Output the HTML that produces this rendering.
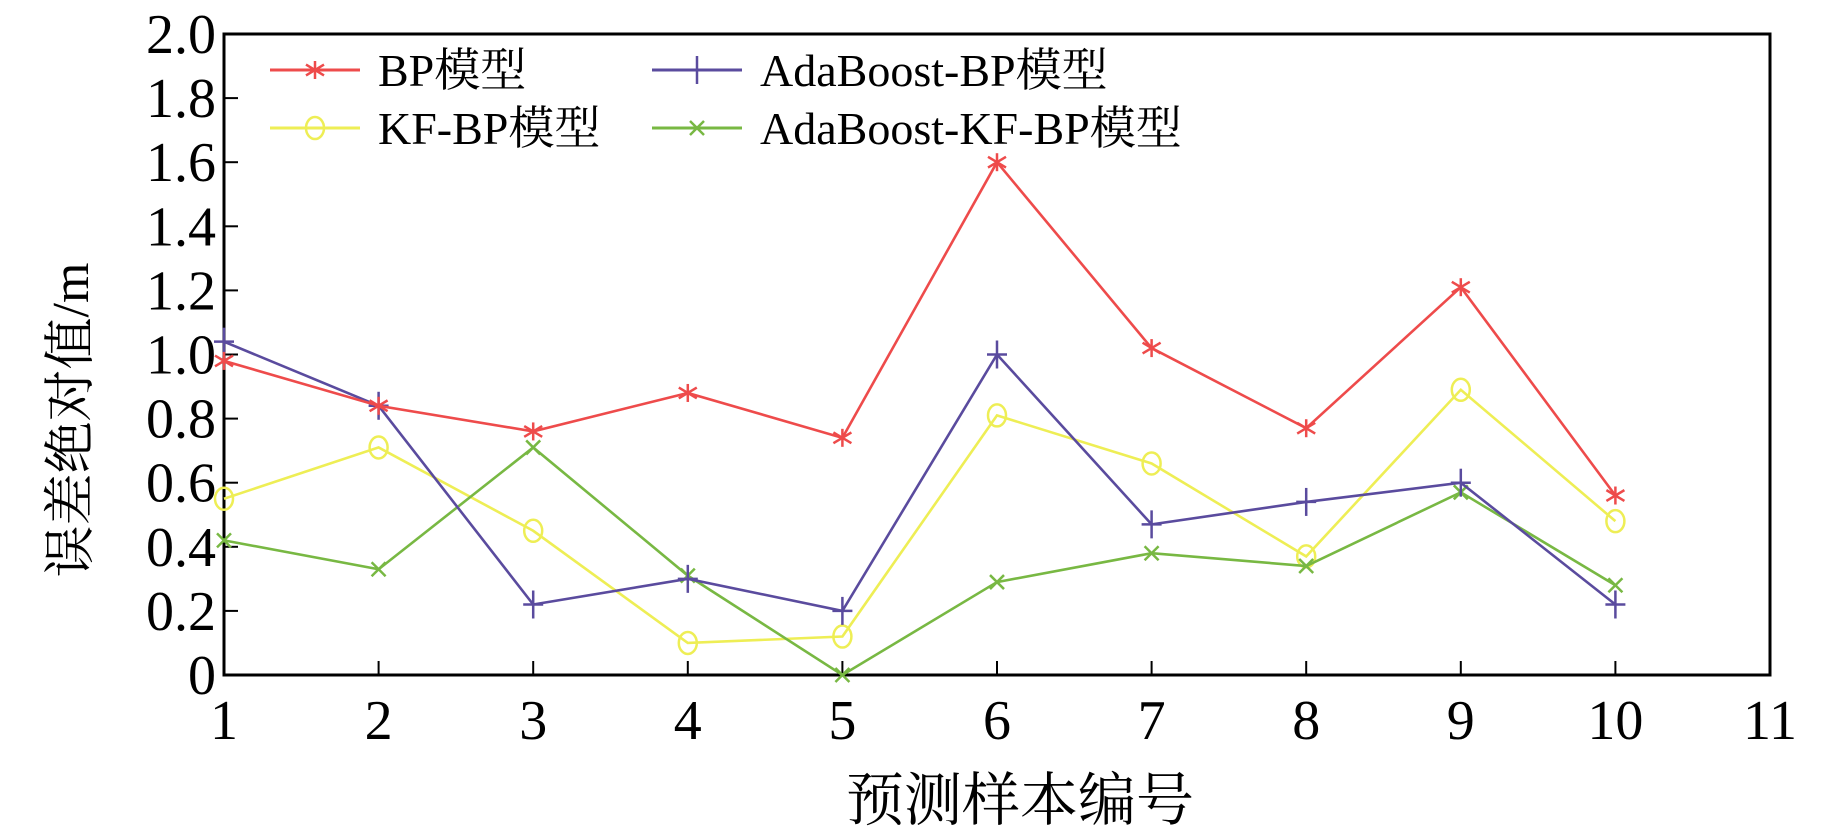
<!DOCTYPE html>
<html><head><meta charset="utf-8"><style>
html,body{margin:0;padding:0;background:#fff;width:1843px;height:836px;overflow:hidden}
svg text{font-family:"Liberation Serif","Noto Serif CJK SC",serif}
</style></head><body>
<svg id="chart" width="1843" height="836" viewBox="0 0 1843 836"></svg>
<script>
const categories=[1,2,3,4,5,6,7,8,9,10];
const xTicks=[1,2,3,4,5,6,7,8,9,10,11];
const yTicks=[0,0.2,0.4,0.6,0.8,1.0,1.2,1.4,1.6,1.8,2.0];
const yTickLabels=["0","0.2","0.4","0.6","0.8","1.0","1.2","1.4","1.6","1.8","2.0"];
const bpValues=[0.98,0.84,0.76,0.88,0.74,1.60,1.02,0.77,1.21,0.56];
const kfbpValues=[0.55,0.71,0.45,0.10,0.12,0.81,0.66,0.37,0.89,0.48];
const adabpValues=[1.04,0.84,0.22,0.30,0.20,1.00,0.47,0.54,0.60,0.22];
const adakfValues=[0.42,0.33,0.71,0.31,0.00,0.29,0.38,0.34,0.57,0.28];
const seriesNames=["BP模型","KF-BP模型","AdaBoost-BP模型","AdaBoost-KF-BP模型"];

const NS="http://www.w3.org/2000/svg";
const svg=document.getElementById('chart');
const L=224,R=1770,T=34,B=675;
const X=v=>L+(v-1)/10*(R-L);
const Y=v=>B-v/2*(B-T);
function el(tag,attrs,parent){const e=document.createElementNS(NS,tag);for(const k in attrs)e.setAttribute(k,attrs[k]);(parent||svg).appendChild(e);return e;}

const frame=el('rect',{x:L,y:T,width:R-L,height:B-T,fill:'none',stroke:'#000','stroke-width':3});



xTicks.forEach(t=>{
  const ln=el('line',{x1:X(t),x2:X(t),y1:B,y2:B-14,stroke:'#000','stroke-width':2});
  
  
  const tx=el('text',{x:X(t),y:B+64,'font-size':56,'text-anchor':'middle',fill:'#000'});
  tx.textContent=t;
  
  
});
yTicks.forEach((t,i)=>{
  const ln=el('line',{x1:L,x2:L+14,y1:Y(t),y2:Y(t),stroke:'#000','stroke-width':2});
  
  
  const tx=el('text',{x:L-8,y:Y(t)+19,'font-size':56,'text-anchor':'end',fill:'#000'});
  tx.textContent=yTickLabels[i];
  
  
});

function marker(g,type,x,y,c){
  const s=9;
  if(type==='star'){
    [[0,-s,0,s],[-s,-s*0.6,s,s*0.6],[-s,s*0.6,s,-s*0.6]].forEach(a=>el('line',{x1:x+a[0],y1:y+a[1],x2:x+a[2],y2:y+a[3],stroke:c,'stroke-width':2.5},g));
  }else if(type==='circle'){
    el('ellipse',{cx:x,cy:y,rx:9,ry:11,fill:'none',stroke:c,'stroke-width':2.5},g);
  }else if(type==='plus'){
    el('line',{x1:x-10,y1:y,x2:x+10,y2:y,stroke:c,'stroke-width':2.5},g);
    el('line',{x1:x,y1:y-14,x2:x,y2:y+14,stroke:c,'stroke-width':2.5},g);
  }else{
    el('line',{x1:x-7,y1:y-7,x2:x+7,y2:y+7,stroke:c,'stroke-width':2.5},g);
    el('line',{x1:x-7,y1:y+7,x2:x+7,y2:y-7,stroke:c,'stroke-width':2.5},g);
  }
}
const series=[
 {vals:kfbpValues,color:'#eeee55',m:'circle',name:'series-kf-bp'},
 {vals:adakfValues,color:'#78b843',m:'x',name:'series-adaboost-kf-bp'},
 {vals:adabpValues,color:'#5a4b9e',m:'plus',name:'series-adaboost-bp'},
 {vals:bpValues,color:'#ee4b4b',m:'star',name:'series-bp'}
];
series.forEach(s=>{
  const g=el('g',{});
  
  
  el('polyline',{points:categories.map((c,i)=>X(c)+','+Y(s.vals[i])).join(' '),fill:'none',stroke:s.color,'stroke-width':2.6},g);
  categories.forEach((c,i)=>marker(g,s.m,X(c),Y(s.vals[i]),s.color));
});

const legend=[
 {x:270,y:70,color:'#ee4b4b',m:'star',label:seriesNames[0],n:'legend-entry-bp'},
 {x:270,y:128,color:'#eeee55',m:'circle',label:seriesNames[1],n:'legend-entry-kf-bp'},
 {x:652,y:70,color:'#5a4b9e',m:'plus',label:seriesNames[2],n:'legend-entry-adaboost-bp'},
 {x:652,y:128,color:'#78b843',m:'x',label:seriesNames[3],n:'legend-entry-adaboost-kf-bp'}
];
legend.forEach(e=>{
  const g=el('g',{});
  
  
  el('line',{x1:e.x,x2:e.x+90,y1:e.y,y2:e.y,stroke:e.color,'stroke-width':3},g);
  marker(g,e.m,e.x+45,e.y,e.color);
  const t=el('text',{x:e.x+108,y:e.y+16,'font-size':46,fill:'#000'},g);
  t.textContent=e.label;
});

const yt=el('text',{x:0,y:0,'font-size':52,'text-anchor':'middle',fill:'#000',transform:'translate(88,420) rotate(-90)'});
yt.textContent='误差绝对值/m';


const xt=el('text',{x:1020,y:820,'font-size':58,'text-anchor':'middle',fill:'#000'});
xt.textContent='预测样本编号';


</script>
</body></html>
